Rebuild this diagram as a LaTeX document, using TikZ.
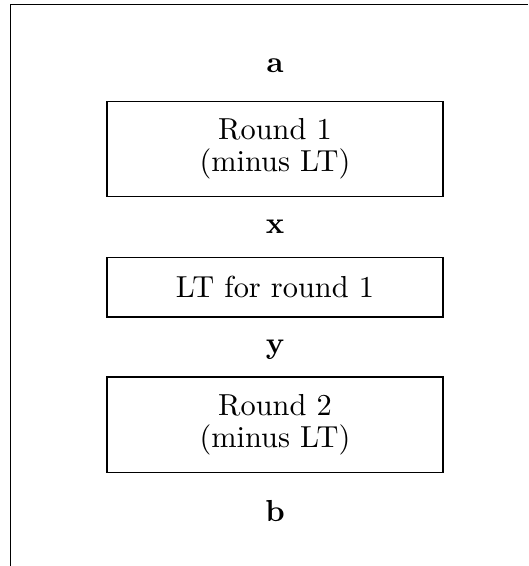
\documentclass[tikz,border=0pt]{standalone}
\usepackage{tikz}
\usetikzlibrary{positioning}

\begin{document}
\begin{tikzpicture}[x=0.3226pt, y=-0.3226pt, every node/.style={font=\fontsize{9.8}{10.4}\selectfont}]
\tikzstyle{roundbox}=[draw,minimum width=108.4pt,align=center,inner sep=0pt]
\tikzstyle{wire}=[font=\fontsize{9.8}{10.4}\selectfont\bfseries,anchor=base]
\useasboundingbox (0,0) rectangle (528,566);
% outer frame, only top and left edge inside the page
\draw (10.5,566) -- (10.5,4.5) -- (528,4.5);
\node[roundbox,minimum height=30.6pt] (r1) at (275,149) {Round 1\\(minus LT)};
\node[roundbox,minimum height=19.2pt] (lt) at (275,287.2) {LT for round 1};
\node[roundbox,minimum height=30.8pt] (r2) at (275,424.8) {Round 2\\(minus LT)};
\node[wire] (a) at (275,72) {a};
\node[wire] (x) at (275,233) {x};
\node[wire] (y) at (275,353) {y};
\node[wire] (b) at (275,521) {b};
\end{tikzpicture}
\end{document}
